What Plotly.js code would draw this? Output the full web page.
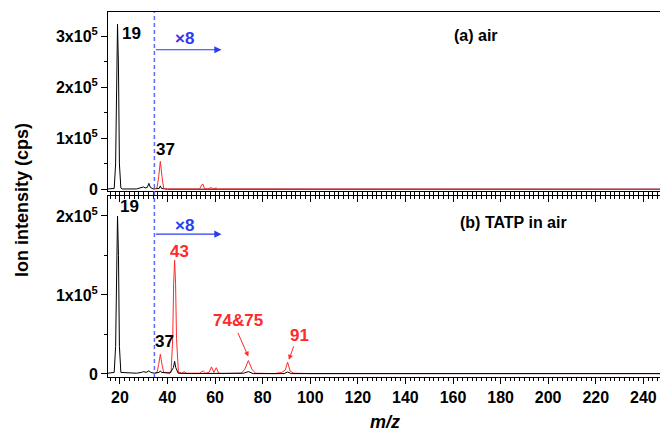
<!DOCTYPE html>
<html><head><meta charset="utf-8">
<script src="https://cdn.plot.ly/plotly-3.0.1.min.js"></script>
<style>html,body{margin:0;padding:0;background:#fff;}#chart{width:660px;height:435px;}</style>
</head><body><div id="chart"></div>
<script>
// (a) air — raw spectrum (black)
const airMz = [15,17.6,18.2,18.6,19,19.4,19.8,20.4,21,27,29,30,30.6,31.5,32.2,32.8,34,36.5,37,37.5,40,247];
const airI  = [0.01e5,0.02e5,0.5e5,2.4e5,3.24e5,2.4e5,0.5e5,0.03e5,0.01e5,0.01e5,0.03e5,0.05e5,0.03e5,0.04e5,0.12e5,0.04e5,0.01e5,0.02e5,0.07e5,0.02e5,0.005e5,0.005e5];
// (a) air — ×8 spectrum (red)
const airX8Mz = [34.5,35.6,36.3,37,37.7,38.4,40,45,46,53.5,54.5,55,55.5,57,58.5,59,60.5,61,247];
const airX8I  = [0.01e5,0.03e5,0.25e5,0.55e5,0.25e5,0.02e5,0.01e5,0.02e5,0.01e5,0.01e5,0.1e5,0.1e5,0.02e5,0.01e5,0.04e5,0.01e5,0.03e5,0.01e5,0.005e5];
// (b) TATP in air — raw spectrum (black)
const tatpMz = [15,17.6,18.2,18.6,19,19.4,19.8,20.4,27,29,30,31,32.2,33,34.5,36.5,37,37.5,41,42.5,43,43.5,44.5,50,58,60,62,72,74,76,89,90.5,92,247];
const tatpI  = [0.01e5,0.02e5,0.35e5,1.5e5,2.0e5,1.5e5,0.35e5,0.02e5,0.01e5,0.02e5,0.03e5,0.02e5,0.04e5,0.02e5,0.01e5,0.02e5,0.04e5,0.02e5,0.01e5,0.08e5,0.16e5,0.08e5,0.01e5,0.005e5,0.01e5,0.01e5,0.005e5,0.01e5,0.03e5,0.005e5,0.005e5,0.025e5,0.005e5,0.005e5];
// (b) TATP in air — ×8 spectrum (red)
const tatpX8Mz = [34.5,35.6,36.3,37,37.7,38.4,41.5,42.2,42.6,43,43.4,43.8,44.6,46,47,48,51,53.5,55,56,57.5,58.5,59.5,60.5,61.5,63,71,72.5,74,75.5,77,85,88,89.5,90.5,91.5,93,100,247];
const tatpX8I  = [0.01e5,0.02e5,0.12e5,0.25e5,0.12e5,0.02e5,0.02e5,0.45e5,1.15e5,1.44e5,1.15e5,0.45e5,0.02e5,0.01e5,0.03e5,0.01e5,0.01e5,0.01e5,0.04e5,0.01e5,0.02e5,0.09e5,0.02e5,0.08e5,0.01e5,0.005e5,0.01e5,0.06e5,0.17e5,0.06e5,0.01e5,0.005e5,0.02e5,0.05e5,0.15e5,0.04e5,0.01e5,0.005e5,0.005e5];

const xTickVals = [20,40,60,80,100,120,140,160,180,200,220,240];
const yTopVals = [0,1e5,2e5,3e5];
const yTopText = ['0','1x10<sup>5</sup>','2x10<sup>5</sup>','3x10<sup>5</sup>'];
const yBotVals = [0,1e5,2e5];
const yBotText = ['0','1x10<sup>5</sup>','2x10<sup>5</sup>'];
const x8Start = 34.5;

const F = 'Liberation Sans, Arial, sans-serif';
const RED = '#ff2a2a';
const BLUE = '#2a3cf0';

const traces = [
  {x: airMz, y: airI, xaxis:'x', yaxis:'y', mode:'lines', line:{color:'#000', width:1}},
  {x: airX8Mz, y: airX8I, xaxis:'x', yaxis:'y', mode:'lines', line:{color:RED, width:1}},
  {x: tatpX8Mz, y: tatpX8I, xaxis:'x2', yaxis:'y2', mode:'lines', line:{color:RED, width:1}},
  {x: tatpMz, y: tatpI, xaxis:'x2', yaxis:'y2', mode:'lines', line:{color:'#000', width:1}}
];

const xRange = [15, 247];
const xCommon = {
  range: xRange, tickvals: xTickVals, showline:true, linecolor:'#000', linewidth:1,
  ticks:'outside', ticklen:6, tickcolor:'#000', showgrid:false, zeroline:false,
  minor:{dtick:2, ticks:'outside', ticklen:3, tickcolor:'#000'}
};
const yCommon = {
  showline:true, linecolor:'#000', linewidth:1, ticks:'outside', ticklen:6, tickcolor:'#000',
  showgrid:false, zeroline:false, tickfont:{family:F, size:16, color:'#000', weight:'bold'},
  minor:{dtick:0.5e5, ticks:'outside', ticklen:3, tickcolor:'#000'}
};

const bold = (s, c, sz) => ({family:F, size:sz||17, color:c||'#000', weight:'bold'});

const layout = {
  width:660, height:435, margin:{l:108, r:0, t:12, b:58},
  paper_bgcolor:'#fff', plot_bgcolor:'#fff', showlegend:false,
  xaxis: Object.assign({}, xCommon, {anchor:'y', showticklabels:false, mirror:true}),
  yaxis: Object.assign({}, yCommon, {domain:[0.5096,1], range:[-0.03e5,3.48e5], tickvals:yTopVals, ticktext:yTopText, anchor:'x'}),
  xaxis2: Object.assign({}, xCommon, {anchor:'y2', showticklabels:true, tickfont:{family:F, size:16, color:'#000', weight:'bold'}}),
  xaxis3: Object.assign({}, xCommon, {anchor:'y2', overlaying:'x2', side:'top', ticks:'inside', showticklabels:false,
           minor:{dtick:2, ticks:'inside', ticklen:3, tickcolor:'#000'}}),
  yaxis2: Object.assign({}, yCommon, {domain:[0,0.4959], range:[-0.038e5,2.253e5], tickvals:yBotVals, ticktext:yBotText, anchor:'x2'}),
  shapes: [
    {type:'line', xref:'x', yref:'paper', x0:x8Start, x1:x8Start, y0:0, y1:1, line:{color:'#5a6cff', width:1.5, dash:'4px,3px'}}
  ],
  annotations: [
    // top panel
    {xref:'x', yref:'y', x:19.9, y:3.05e5, text:'19', showarrow:false, xanchor:'left', yanchor:'middle', font:bold()},
    {xref:'x', yref:'y', x:39.3, y:0.55e5, text:'37', showarrow:false, xanchor:'center', yanchor:'bottom', font:bold()},
    {xref:'x', yref:'y', x:47.3, y:2.97e5, text:'×8', showarrow:false, xanchor:'center', yanchor:'middle', font:bold(0,BLUE,17)},
    {xref:'x', yref:'y', axref:'x', ayref:'y', x:62.7, y:2.74e5, ax:x8Start, ay:2.74e5, text:'', showarrow:true, arrowhead:2, arrowsize:1.2, arrowwidth:1.2, arrowcolor:BLUE},
    {xref:'paper', yref:'y', x:(476-108)/552, y:(189.5-36)/51*1e5, text:'(a) air', showarrow:false, xanchor:'center', yanchor:'middle', font:bold(0,'#000',16)},
    // bottom panel
    {xref:'x2', yref:'y2', x:19.3, y:1.98e5, text:'19', showarrow:false, xanchor:'left', yanchor:'bottom', font:bold()},
    {xref:'x2', yref:'y2', x:38.9, y:0.41e5, text:'37', showarrow:false, xanchor:'center', yanchor:'middle', font:bold()},
    {xref:'x2', yref:'y2', x:45.2, y:1.55e5, text:'43', showarrow:false, xanchor:'center', yanchor:'middle', font:bold(0,RED,17)},
    {xref:'x2', yref:'y2', x:47.0, y:1.88e5, text:'×8', showarrow:false, xanchor:'center', yanchor:'middle', font:bold(0,BLUE,17)},
    {xref:'x2', yref:'y2', axref:'x2', ayref:'y2', x:62.7, y:1.77e5, ax:x8Start, ay:1.77e5, text:'', showarrow:true, arrowhead:2, arrowsize:1.2, arrowwidth:1.2, arrowcolor:BLUE},
    {xref:'x2', yref:'y2', x:69.7, y:0.68e5, text:'74&amp;75', showarrow:false, xanchor:'center', yanchor:'middle', font:bold(0,RED,17)},
    {xref:'x2', yref:'y2', axref:'x2', ayref:'y2', x:74, y:0.22e5, ax:69.3, ay:0.54e5, text:'', showarrow:true, arrowhead:2, arrowsize:1, arrowwidth:1, arrowcolor:RED},
    {xref:'x2', yref:'y2', x:95.6, y:0.49e5, text:'91', showarrow:false, xanchor:'center', yanchor:'middle', font:bold(0,RED,17)},
    {xref:'x2', yref:'y2', axref:'x2', ayref:'y2', x:91, y:0.18e5, ax:93.3, ay:0.37e5, text:'', showarrow:true, arrowhead:2, arrowsize:1, arrowwidth:1, arrowcolor:RED},
    {xref:'paper', yref:'y2', x:(513-108)/552, y:(374-223)/79*1e5, text:'(b) TATP in air', showarrow:false, xanchor:'center', yanchor:'middle', font:bold(0,'#000',16)},
    // axis titles
    {xref:'paper', yref:'paper', x:(22-108)/552, y:(377-200)/365, text:'Ion intensity (cps)', textangle:-90, showarrow:false, xanchor:'center', yanchor:'middle', font:bold(0,'#000',18)},
    {xref:'paper', yref:'paper', x:(385-108)/552, y:-(422-377)/365, text:'<i>m/z</i>', showarrow:false, xanchor:'center', yanchor:'middle', font:bold(0,'#000',18)}
  ]
};

// dummy trace to activate xaxis3
traces.push({x:[xRange[0]], y:[0], xaxis:'x3', yaxis:'y2', mode:'markers', marker:{opacity:0}, hoverinfo:'skip'});

Plotly.newPlot('chart', traces, layout, {staticPlot:true});
</script></body></html>
